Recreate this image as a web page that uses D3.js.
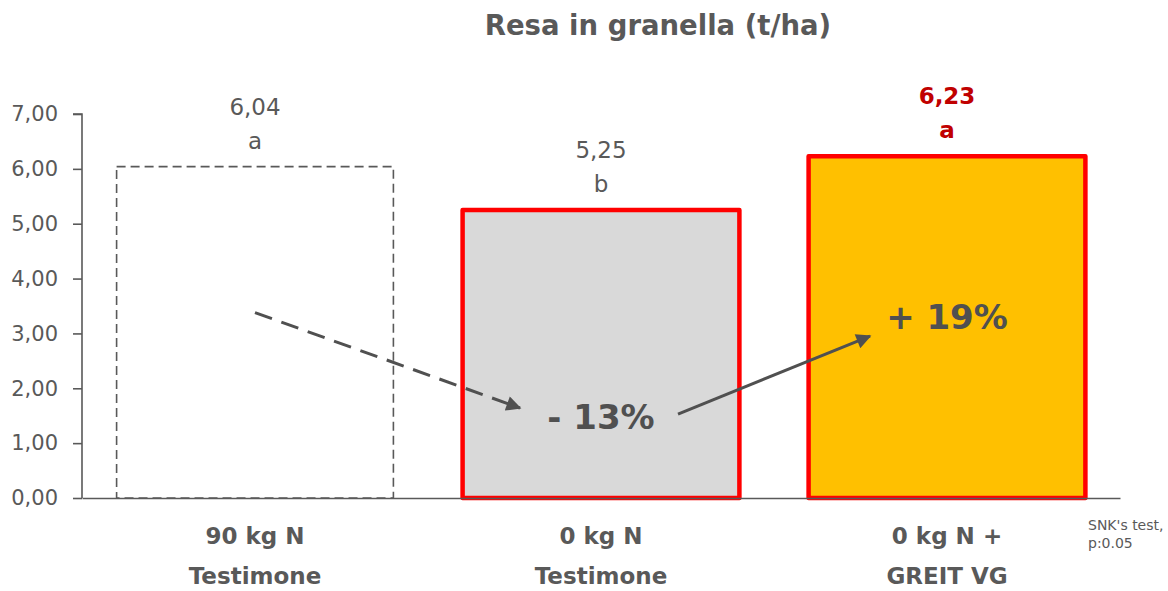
<!DOCTYPE html>
<html>
<head>
<meta charset="utf-8">
<script src="https://cdn.jsdelivr.net/npm/d3@7"></script>
<style>
  html, body { margin: 0; padding: 0; background: #fff; }
  svg { display: block; }
  text { font-family: "DejaVu Sans", "Noto Sans", sans-serif; }
</style>
</head>
<body>
<svg id="chart" width="1168" height="591"></svg>
<script>
// Yield data (t/ha) per treatment
const categories = ["90 kg N|Testimone", "0 kg N|Testimone", "0 kg N +|GREIT VG"];
const values = [6.04, 5.25, 6.23];
const letters = ["a", "b", "a"];
const valueLabels = ["6,04", "5,25", "6,23"];
const yTicks = [0, 1, 2, 3, 4, 5, 6, 7];
const changes = ["- 13%", "+ 19%"];

const fills = ["#ffffff", "#d9d9d9", "#ffc000"];
const strokes = ["#595959", "#ff0000", "#ff0000"];
const textGrey = "#595959";

const svg = d3.select("#chart");
const margin = { left: 82, right: 48, top: 114, bottom: 93 };
const W = 1168, H = 591;

const x = d3.scaleBand()
  .domain(categories)
  .range([margin.left, W - margin.right])
  .paddingInner(0.2)
  .paddingOuter(0.1);

const y = d3.scaleLinear()
  .domain([0, 7])
  .range([H - margin.bottom, margin.top]);

// Title
svg.append("text")
  .attr("x", 658).attr("y", 35)
  .attr("text-anchor", "middle")
  .attr("font-size", 27.5).attr("font-weight", "bold")
  .attr("fill", textGrey)
  .text("Resa in granella (t/ha)");

// Bars
const bars = svg.append("g");
categories.forEach((c, i) => {
  const bx = x(c), bw = x.bandwidth();
  const rect = bars.append("rect")
    .attr("x", bx).attr("y", y(values[i]))
    .attr("width", bw).attr("height", y(0) - y(values[i]))
    .attr("fill", fills[i])
    .attr("stroke", strokes[i]);
  if (i === 0) {
    rect.attr("stroke-width", 1.6).attr("stroke-dasharray", "9,5");
  } else {
    rect.attr("stroke-width", 4.5).attr("stroke-linejoin", "round");
  }
});

// Y axis
const yAxis = d3.axisLeft(y)
  .tickValues(yTicks)
  .tickSize(9)
  .tickFormat(d => d3.format(".2f")(d).replace(".", ","));
const gy = svg.append("g")
  .attr("transform", `translate(${margin.left},0)`)
  .call(yAxis);
gy.select(".domain").attr("stroke", "#595959").attr("stroke-width", 1.6)
  .attr("d", `M-9,${y(7)}H0V${y(0)}`);
gy.selectAll(".tick line").attr("stroke", "#595959").attr("stroke-width", 1.6);
gy.selectAll(".tick text")
  .attr("x", -24)
  .attr("font-size", 21)
  .attr("fill", textGrey)
  .attr("font-family", "DejaVu Sans, sans-serif");

// X axis baseline
const xAxis = d3.axisBottom(x).tickSize(0).tickFormat("");
const gx = svg.append("g")
  .attr("transform", `translate(0,${y(0)})`)
  .call(xAxis);
gx.select(".domain").attr("stroke", "#595959").attr("stroke-width", 1.6);

// Category labels (two lines each)
categories.forEach(c => {
  const lines = c.split("|");
  const t = svg.append("text")
    .attr("text-anchor", "middle")
    .attr("font-size", 23).attr("font-weight", "bold")
    .attr("fill", textGrey);
  lines.forEach((ln, k) => {
    t.append("tspan")
      .attr("x", x(c) + x.bandwidth() / 2)
      .attr("y", 544 + k * 40)
      .text(ln);
  });
});

// Value labels with significance letters
categories.forEach((c, i) => {
  const cx = x(c) + x.bandwidth() / 2;
  const top = y(values[i]);
  const highlight = i === 2;
  const g = svg.append("g")
    .attr("fill", highlight ? "#c00000" : textGrey)
    .attr("font-weight", highlight ? "bold" : "normal")
    .attr("font-size", 23)
    .attr("text-anchor", "middle");
  g.append("text").attr("x", cx).attr("y", top - 52).text(valueLabels[i]);
  g.append("text").attr("x", cx).attr("y", top - 18).text(letters[i]);
});

// Arrow markers
const defs = svg.append("defs");
defs.append("marker")
  .attr("id", "arrowhead")
  .attr("viewBox", "0 0 10 10")
  .attr("refX", 9).attr("refY", 5)
  .attr("markerWidth", 6).attr("markerHeight", 5)
  .attr("markerUnits", "strokeWidth")
  .attr("orient", "auto")
  .append("path")
  .attr("d", "M0,0L10,5L0,10Z")
  .attr("fill", "#505050");

const c0 = x(categories[0]) + x.bandwidth() / 2;
const c1 = x(categories[1]) + x.bandwidth() / 2;
const c2 = x(categories[2]) + x.bandwidth() / 2;

// Decrease arrow (dashed) from control towards the unfertilized bar
svg.append("line")
  .attr("x1", c0).attr("y1", y(3.38))
  .attr("x2", c1 - 81).attr("y2", y(1.64))
  .attr("stroke", "#505050").attr("stroke-width", 3)
  .attr("stroke-dasharray", "18,10")
  .attr("marker-end", "url(#arrowhead)");

// Increase arrow (solid) towards the GREIT VG bar
svg.append("line")
  .attr("x1", c1 + 77).attr("y1", y(1.53))
  .attr("x2", c2 - 77).attr("y2", y(2.95))
  .attr("stroke", "#505050").attr("stroke-width", 3)
  .attr("marker-end", "url(#arrowhead)");

// Percentage change labels
svg.append("text")
  .attr("x", c1).attr("y", y(1.5) + 13)
  .attr("text-anchor", "middle")
  .attr("font-size", 34).attr("font-weight", "bold")
  .attr("fill", "#505050")
  .text(changes[0]);
svg.append("text")
  .attr("x", c2).attr("y", y(3.32) + 13)
  .attr("text-anchor", "middle")
  .attr("font-size", 34).attr("font-weight", "bold")
  .attr("fill", "#505050")
  .text(changes[1]);

// Statistical test note
svg.append("text")
  .attr("x", 1088).attr("y", 530)
  .attr("font-size", 14).attr("fill", textGrey)
  .selectAll("tspan")
  .data(["SNK's test,", "p:0.05"])
  .join("tspan")
  .attr("x", 1088)
  .attr("dy", (d, i) => i === 0 ? 0 : 18)
  .text(d => d);
</script>
</body>
</html>
